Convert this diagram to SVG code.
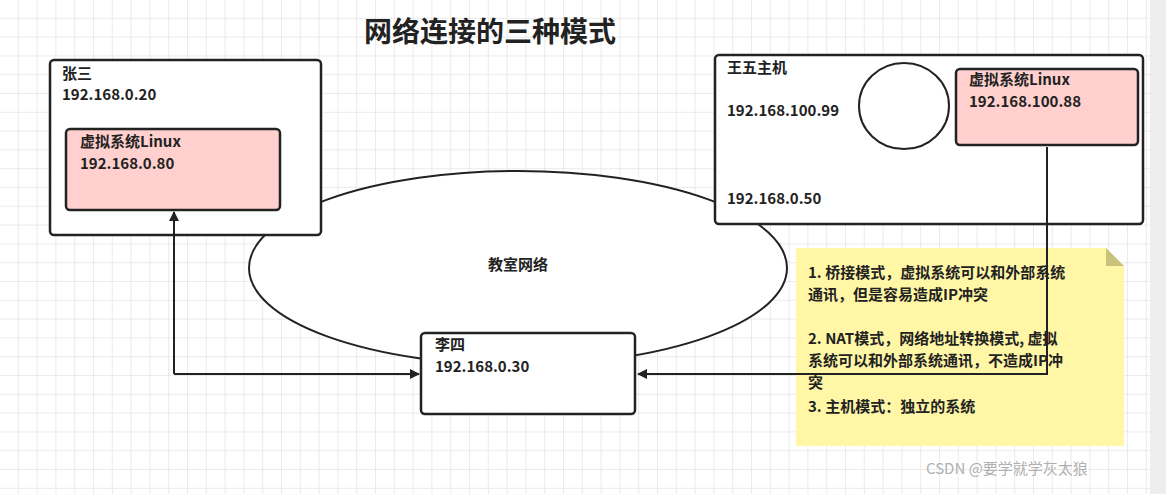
<svg xmlns="http://www.w3.org/2000/svg" width="1166" height="494" viewBox="0 0 1166 494">
<defs>
<pattern id="g" width="18.8" height="18.8" patternUnits="userSpaceOnUse"><path d="M18.8 0V18.8H0" fill="none" stroke="#d8d8d8" stroke-width="1"/></pattern>
<marker id="a" markerWidth="10" markerHeight="10" refX="9" refY="5" orient="auto" markerUnits="userSpaceOnUse"><path d="M0 0L10 5L0 10Z" fill="#222"/></marker>
<style>
text{font-family:"Noto Sans CJK SC","Noto Sans",sans-serif;font-weight:bold;fill:#222;font-size:15px}
.t{font-size:28px}
.n{font-size:15px}
.w{font-weight:normal;fill:#b0b0b0}
.b{fill:#fff;stroke:#222;stroke-width:2.5}
.p{fill:#ffd0cd;stroke:#222;stroke-width:2.5}
.c{fill:none;stroke:#222;stroke-width:2}
</style>
</defs>
<rect width="1166" height="494" fill="#fff"/>
<rect width="1150" height="494" fill="url(#g)"/>
<rect x="1150" width="16" height="494" fill="#eeeeee"/>
<text class="t" x="490" y="42" text-anchor="middle">网络连接的三种模式</text>
<g id="net"><ellipse cx="518" cy="268" rx="269" ry="97" fill="#fff" stroke="#222" stroke-width="2"/><text x="518" y="270" text-anchor="middle">教室网络</text></g>
<g id="zhangsan"><rect class="b" x="50" y="60" width="271" height="175" rx="4"/><text x="62" y="79">张三</text><text x="62" y="100">192.168.0.20</text></g>
<g id="vm1"><rect class="p" x="66" y="129" width="214" height="81" rx="4"/><text x="80" y="147">虚拟系统Linux</text><text x="80" y="169">192.168.0.80</text></g>
<g id="wangwu"><rect class="b" x="715" y="55" width="428" height="169" rx="4"/><text x="727" y="73">王五主机</text><text x="727" y="116">192.168.100.99</text><text x="727" y="204">192.168.0.50</text><ellipse cx="904" cy="106" rx="45" ry="43" fill="#fff" stroke="#222" stroke-width="2"/></g>
<g id="vm2"><rect class="p" x="956" y="69" width="182" height="76" rx="4"/><text x="969" y="85">虚拟系统Linux</text><text x="969" y="107">192.168.100.88</text></g>
<g id="note"><path d="M796 248H1106L1124 266V446H796Z" fill="#fff7a6"/><path d="M1106 248L1124 266H1106Z" fill="#c8c27a"/>
<text><tspan x="808" y="278">1. 桥接模式，虚拟系统可以和外部系统</tspan><tspan x="808" y="300">通讯，但是容易造成IP冲突</tspan><tspan x="808" y="344">2. NAT模式，网络地址转换模式, 虚拟</tspan><tspan x="808" y="366">系统可以和外部系统通讯，不造成IP冲</tspan><tspan x="808" y="388">突</tspan><tspan x="808" y="412">3. 主机模式：独立的系统</tspan></text></g>
<g id="lisi"><rect class="b" x="421" y="333" width="214" height="81" rx="4"/><text x="435" y="350">李四</text><text x="435" y="372">192.168.0.30</text></g>
<g id="connectors">
<path class="c" d="M174 374V212" marker-end="url(#a)"/>
<path class="c" d="M174 374H419" marker-end="url(#a)"/>
<path class="c" d="M1047 147V374H638" marker-end="url(#a)"/>
</g>
<text class="w" x="926" y="474">CSDN @要学就学灰太狼</text>
</svg>
